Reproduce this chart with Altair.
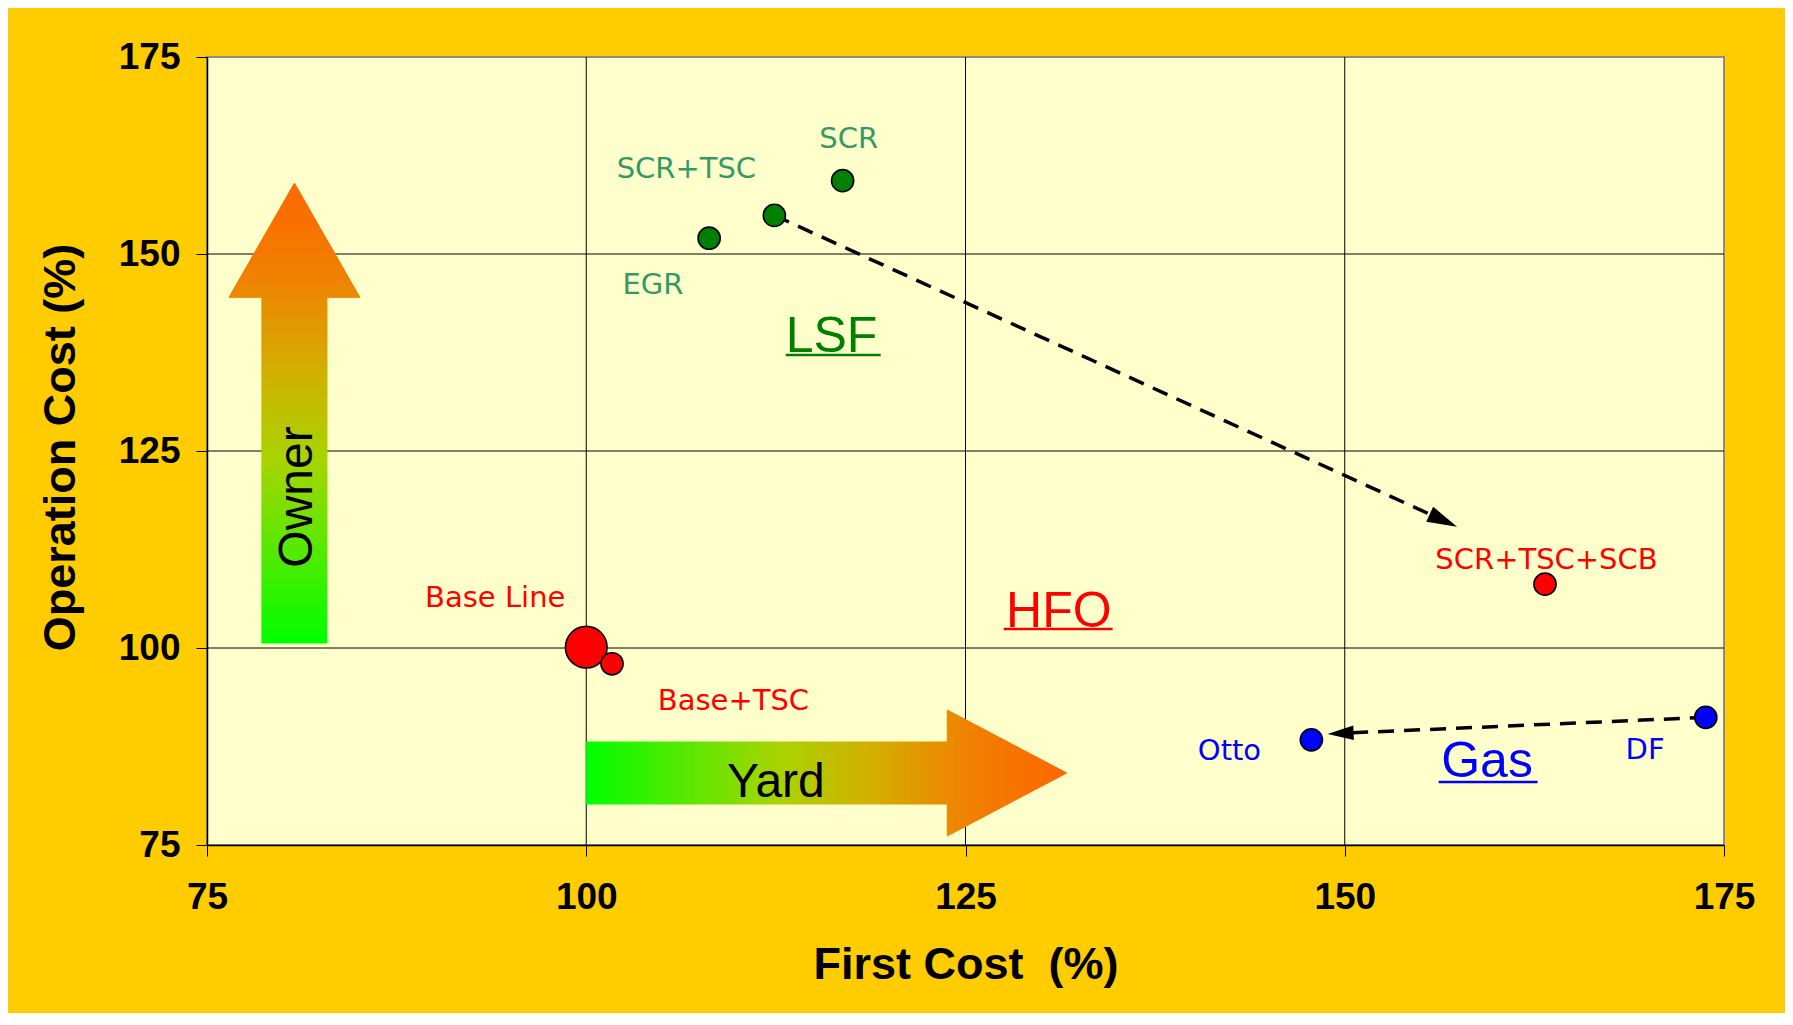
import math
import altair as alt
import pandas as pd

# ---------------- data ----------------
point_names = ["Base Line", "Base+TSC", "EGR", "SCR+TSC", "SCR", "SCR+TSC+SCB", "Otto", "DF"]
first_cost = [100.0, 101.7, 108.1, 112.4, 116.9, 163.2, 147.8, 173.8]
operation_cost = [100.1, 98.0, 152.0, 154.9, 159.3, 108.1, 88.35, 91.2]
point_fill = ["#FF0000", "#FF0000", "#008000", "#008000", "#008000", "#FF0000", "#0000FF", "#0000FF"]
point_size = [1735, 490, 490, 490, 490, 490, 490, 490]

label_text = ["SCR", "SCR+TSC", "EGR", "Base Line", "Base+TSC", "SCR+TSC+SCB", "Otto", "DF"]
label_x = [117.3, 106.6, 104.4, 94.0, 109.7, 163.3, 142.4, 169.8]
label_y = [163.45, 159.64, 144.92, 105.2, 92.13, 110.03, 85.79, 85.91]
label_color = ["#339966", "#339966", "#339966", "#FF0000", "#FF0000", "#FF0000", "#0000FF", "#0000FF"]

fuel_text = ["LSF", "HFO", "Gas"]
fuel_x = [116.17, 131.15, 159.38]
fuel_y = [137.56, 102.66, 83.63]
fuel_color = ["#008000", "#FF0000", "#0000FF"]
underline_x1 = [113.15, 127.52, 156.19]
underline_x2 = [119.41, 134.70, 162.71]
underline_y = [137.18, 102.41, 82.99]

# dashed trend arrows (start -> tip)
arrow_from_x = [112.4, 173.8]
arrow_from_y = [154.9, 91.2]
arrow_to_x = [157.4, 148.87]
arrow_to_y = [115.4, 89.1]
arrow_head_len = [30, 26]

# gradient block arrows: main-axis stations (start, head base, tip) and cross-axis extents
owner_main = [100.63, 144.5, 159.0]          # y values
owner_shaft = [78.62, 82.91]                 # x extent of shaft
owner_head = [76.45, 85.08]                  # x extent of head base
owner_tip = 80.765                           # x of tip
owner_label = ("Owner", 81.92, 119.16)

yard_main = [100.0, 123.8, 131.67]           # x values
yard_shaft = [80.2, 88.07]                   # y extent of shaft
yard_head = [76.14, 92.13]                   # y extent of head base
yard_tip = 84.14                             # y of tip
yard_label = ("Yard", 112.5, 81.09)

ticks = [75, 100, 125, 150, 175]
grid_vals = [100, 125, 150]

grad_stops = [(0.0, "#00FF00"), (0.4, "#A8D400"), (0.6, "#D4AE00"), (0.8, "#F08000"), (1.0, "#FF6600")]

# ---------------- layout ----------------
W, H = 1517, 788
DOM = [75, 175]

xscale = alt.Scale(domain=DOM, nice=False, zero=False)
yscale = alt.Scale(domain=DOM, nice=False, zero=False)
xaxis = alt.Axis(values=ticks, title="First Cost\u00a0 (%)", grid=False)
yaxis = alt.Axis(values=ticks, title="Operation Cost (%)", grid=False)


def X(f):
    return alt.X(f, type="quantitative", scale=xscale, axis=xaxis)


def Y(f):
    return alt.Y(f, type="quantitative", scale=yscale, axis=yaxis)


def grad_color(t):
    t = max(0.0, min(1.0, t))
    for (o0, c0), (o1, c1) in zip(grad_stops[:-1], grad_stops[1:]):
        if t <= o1:
            f = (t - o0) / (o1 - o0)
            a = [int(c0[i:i + 2], 16) for i in (1, 3, 5)]
            b = [int(c1[i:i + 2], 16) for i in (1, 3, 5)]
            return "#" + "".join("%02X" % round(a[j] + (b[j] - a[j]) * f) for j in range(3))
    return grad_stops[-1][1]


def arrow_slices(main, shaft, head, tip, step):
    """Split a block arrow into thin slices along its main axis, each with its gradient colour."""
    s0, s1, s2 = main
    rows = []
    k = 0
    total = s2 - s0
    n1 = max(1, int(round(abs(s1 - s0) / step)))
    for i in range(n1):
        a = s0 + (s1 - s0) * i / n1
        b = s0 + (s1 - s0) * (i + 1) / n1
        c = grad_color(((a + b) / 2 - s0) / total)
        rows.append({"k": k, "s": a, "lo": shaft[0], "hi": shaft[1], "col": c})
        rows.append({"k": k, "s": b, "lo": shaft[0], "hi": shaft[1], "col": c})
        k += 1
    n2 = max(1, int(round(abs(s2 - s1) / step)))
    for i in range(n2):
        fa, fb = i / n2, (i + 1) / n2
        a = s1 + (s2 - s1) * fa
        b = s1 + (s2 - s1) * fb
        c = grad_color(((a + b) / 2 - s0) / total)
        for s, f in ((a, fa), (b, fb)):
            rows.append({"k": k, "s": s,
                         "lo": head[0] + (tip - head[0]) * f,
                         "hi": head[1] + (tip - head[1]) * f, "col": c})
        k += 1
    return pd.DataFrame(rows)


pts = pd.DataFrame({"name": point_names, "x": first_cost, "y": operation_cost,
                    "fill": point_fill, "size": point_size})
labels = pd.DataFrame({"t": label_text, "x": label_x, "y": label_y, "c": label_color})
fuels = pd.DataFrame({"t": fuel_text, "x": fuel_x, "y": fuel_y, "c": fuel_color,
                      "ux1": underline_x1, "ux2": underline_x2, "uy": underline_y})

# arrow lines and heads
line_rows, head_rows = [], []
for i in range(len(arrow_from_x)):
    fx, fy, tx, ty, L = arrow_from_x[i], arrow_from_y[i], arrow_to_x[i], arrow_to_y[i], arrow_head_len[i]
    dxp = (tx - fx) * W / (DOM[1] - DOM[0])
    dyp = -(ty - fy) * H / (DOM[1] - DOM[0])
    ln = math.hypot(dxp, dyp)
    ux, uy = dxp / ln, dyp / ln
    back = L - 3
    bx = tx - back * ux * (DOM[1] - DOM[0]) / W
    by = ty + back * uy * (DOM[1] - DOM[0]) / H
    line_rows.append({"id": i, "o": 0, "x": fx, "y": fy})
    line_rows.append({"id": i, "o": 1, "x": bx, "y": by})
    ang = math.degrees(math.atan2(dyp, dxp)) % 360
    head_rows.append({"x": tx, "y": ty, "ang": ang, "size": L * L})
lines_df = pd.DataFrame(line_rows)
heads_df = pd.DataFrame(head_rows)

owner_df = arrow_slices(owner_main, owner_shaft, owner_head, owner_tip, 0.45)
yard_df = arrow_slices(yard_main, yard_shaft, yard_head, yard_tip, 0.22)
arrow_text = pd.DataFrame({"t": [owner_label[0], yard_label[0]],
                           "x": [owner_label[1], yard_label[1]],
                           "y": [owner_label[2], yard_label[2]]})

gx = alt.Chart(pd.DataFrame({"v": grid_vals})).mark_rule(color="#000000", strokeWidth=1).encode(x=X("v"))
gy = alt.Chart(pd.DataFrame({"v": grid_vals})).mark_rule(color="#000000", strokeWidth=1).encode(y=Y("v"))

owner = alt.Chart(owner_df).mark_area(orient="horizontal", strokeWidth=1, opacity=1).encode(
    y=Y("s"), x=X("lo"), x2="hi", detail="k:N",
    fill=alt.Fill("col:N", scale=None), stroke=alt.Stroke("col:N", scale=None))
yard = alt.Chart(yard_df).mark_area(orient="vertical", strokeWidth=1, opacity=1).encode(
    x=X("s"), y=Y("lo"), y2="hi", detail="k:N",
    fill=alt.Fill("col:N", scale=None), stroke=alt.Stroke("col:N", scale=None))

owner_t = alt.Chart(arrow_text.iloc[[0]]).mark_text(
    font="Liberation Sans", fontSize=48, color="#000000", align="center", baseline="alphabetic", angle=270
).encode(x=X("x"), y=Y("y"), text="t:N")
yard_t = alt.Chart(arrow_text.iloc[[1]]).mark_text(
    font="Liberation Sans", fontSize=48, color="#000000", align="center", baseline="alphabetic"
).encode(x=X("x"), y=Y("y"), text="t:N")

dash = alt.Chart(lines_df).mark_line(color="#000000", strokeWidth=3.5, strokeDash=[16, 10]).encode(
    x=X("x"), y=Y("y"), detail="id:N", order="o:Q")
heads = alt.Chart(heads_df).mark_point(
    shape="M0,0 L-2,-0.55 L-2,0.55 Z", filled=True, color="#000000", opacity=1
).encode(x=X("x"), y=Y("y"), angle=alt.Angle("ang:Q", scale=None), size=alt.Size("size:Q", scale=None))

dots = alt.Chart(pts).mark_point(shape="circle", filled=True, stroke="#000000", strokeWidth=1.6, opacity=1).encode(
    x=X("x"), y=Y("y"), fill=alt.Fill("fill:N", scale=None), size=alt.Size("size:Q", scale=None))

lab = alt.Chart(labels).mark_text(font="DejaVu Sans", fontSize=29, align="center", baseline="alphabetic").encode(
    x=X("x"), y=Y("y"), text="t:N", color=alt.Color("c:N", scale=None))

fuel_t = alt.Chart(fuels).mark_text(font="Liberation Sans", fontSize=50, align="center", baseline="alphabetic").encode(
    x=X("x"), y=Y("y"), text="t:N", color=alt.Color("c:N", scale=None))
fuel_u = alt.Chart(fuels).mark_rule(strokeWidth=2.5).encode(
    x=X("ux1"), x2="ux2", y=Y("uy"), color=alt.Color("c:N", scale=None))

chart = alt.layer(
    gx, gy, owner, yard, owner_t, yard_t, dash, heads, dots, lab, fuel_t, fuel_u
).properties(
    width=W, height=H,
    background="#FFCC00",
    padding={"left": 199, "top": 49, "right": 61, "bottom": 168},
    autosize=alt.AutoSizeParams(type="none"),
).configure_view(
    fill="#FFFFCC", stroke="#8C8C8C", strokeWidth=2
).configure_axis(
    domainColor="#000000", domainWidth=1.5, tickColor="#000000", tickWidth=1, tickSize=11,
    labelFont="Liberation Sans", labelFontSize=37, labelFontWeight="bold", labelColor="#000000",
    labelFlush=False, labelOverlap=False, labelBound=False,
    titleFont="Liberation Sans", titleFontSize=45, titleFontWeight="bold", titleColor="#000000",
    grid=False,
).configure_axisX(
    labelPadding=23, titleX=W / 2, titleY=133, titleAlign="center", titleBaseline="alphabetic",
).configure_axisY(
    labelPadding=16, titleAngle=270, titleX=-133, titleY=390, titleAlign="center", titleBaseline="alphabetic",
)

chart.save("out.html", embed_options={"renderer": "svg", "actions": False})
